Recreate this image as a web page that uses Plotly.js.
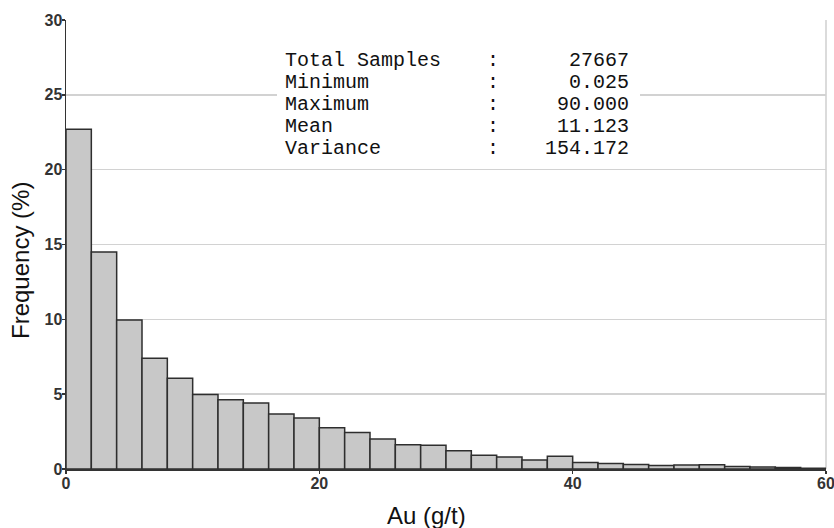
<!DOCTYPE html>
<html>
<head>
<meta charset="utf-8">
<script src="https://cdn.plot.ly/plotly-3.0.1.min.js"></script>
<style>html,body{margin:0;padding:0;background:#fff;}</style>
</head>
<body>
<div id="chart" style="width:834px;height:528px;"></div>
<script>
// Histogram of Au grades, bins of 2 g/t from 0 to 60
const binWidth = 2;
const binStart = [0,2,4,6,8,10,12,14,16,18,20,22,24,26,28,30,32,34,36,38,40,42,44,46,48,50,52,54,56,58];
const frequency = [22.7,14.5,9.95,7.4,6.07,4.97,4.63,4.41,3.67,3.4,2.76,2.44,2.0,1.62,1.58,1.22,0.92,0.8,0.6,0.86,0.44,0.37,0.3,0.24,0.26,0.28,0.16,0.13,0.1,0.05];

const statLabels = ["Total Samples","Minimum","Maximum","Mean","Variance"];
const statValues = ["27667","0.025","90.000","11.123","154.172"];

const xTicks = [0,20,40,60];

const binCenters = binStart.map(b => b + binWidth/2);

const trace = {
  type: 'bar',
  x: binCenters,
  y: frequency,
  width: binStart.map(() => binWidth),
  marker: {color: '#c8c8c8', line: {color: '#2e2e2e', width: 1.5}},
  hoverinfo: 'x+y'
};

// pixel helpers for text placement (plot area 66..826 x, 20..469 y)
const L = 66, R = 826, T = 20, B = 469;
const px = v => (v - L) / (R - L);
const py = v => (B - v) / (B - T);

const monoFont = {family: '"Courier New", "Liberation Mono", monospace', size: 20, color: '#111'};
const annotations = [];
statLabels.forEach((lab, i) => {
  const yy = py(60.7 + i * 21.85);
  annotations.push({xref:'paper', yref:'paper', x: px(283), y: yy, xanchor:'left', yanchor:'middle', text: lab, showarrow:false, font: monoFont});
  annotations.push({xref:'paper', yref:'paper', x: px(493), y: yy, xanchor:'center', yanchor:'middle', text: ':', showarrow:false, font: monoFont});
  annotations.push({xref:'paper', yref:'paper', x: px(631), y: yy, xanchor:'right', yanchor:'middle', text: statValues[i], showarrow:false, font: monoFont});
});
const titleFont = {family:'Arial, "Liberation Sans", sans-serif', size:24, color:'#111'};
annotations.push({xref:'paper', yref:'paper', x: px(20), y: py(261), xanchor:'center', yanchor:'middle', textangle:-90, text:'Frequency (%)', showarrow:false, font:titleFont});
annotations.push({xref:'paper', yref:'paper', x: px(426), y: py(515), xanchor:'center', yanchor:'middle', text:'Au (g/t)', showarrow:false, font:titleFont});

const tickFont = {family:'Arial, "Liberation Sans", sans-serif', size:16, color:'#333', weight:'bold'};

const layout = {
  width: 834, height: 528,
  margin: {l: L, r: 834 - R, t: T, b: 528 - B},
  paper_bgcolor: '#ffffff', plot_bgcolor: '#ffffff',
  showlegend: false,
  bargap: 0,
  xaxis: {
    range: [0, 60], tickmode: 'array', tickvals: xTicks,
    ticks: 'outside', ticklen: 3, tickwidth: 1.5, tickcolor: '#333',
    ticklabelstandoff: -4, ticklabeloverflow: 'allow',
    showline: true, linecolor: '#333', linewidth: 1.5,
    showgrid: false, zeroline: false, tickfont: tickFont
  },
  yaxis: {
    range: [0, 30], dtick: 5, tick0: 0,
    ticks: 'outside', ticklen: 3, tickwidth: 1.5, tickcolor: '#333',
    ticklabelstandoff: -4, ticklabeloverflow: 'allow',
    showline: true, linecolor: '#333', linewidth: 1.5,
    showgrid: true, gridcolor: '#d2d2d2', gridwidth: 1.5,
    zeroline: false, tickfont: tickFont
  },
  shapes: [
    {type:'line', xref:'paper', yref:'paper', x0:1, x1:1, y0:0, y1:1, line:{color:'#cfcfcf', width:1.5}, layer:'below'},
    {type:'rect', xref:'paper', yref:'paper', x0:px(277), x1:px(640), y0:py(162), y1:py(42), fillcolor:'#ffffff', line:{width:0}, layer:'above'}
  ],
  annotations: annotations
};

Plotly.newPlot('chart', [trace], layout, {displayModeBar: false, staticPlot: true});
</script>
</body>
</html>
